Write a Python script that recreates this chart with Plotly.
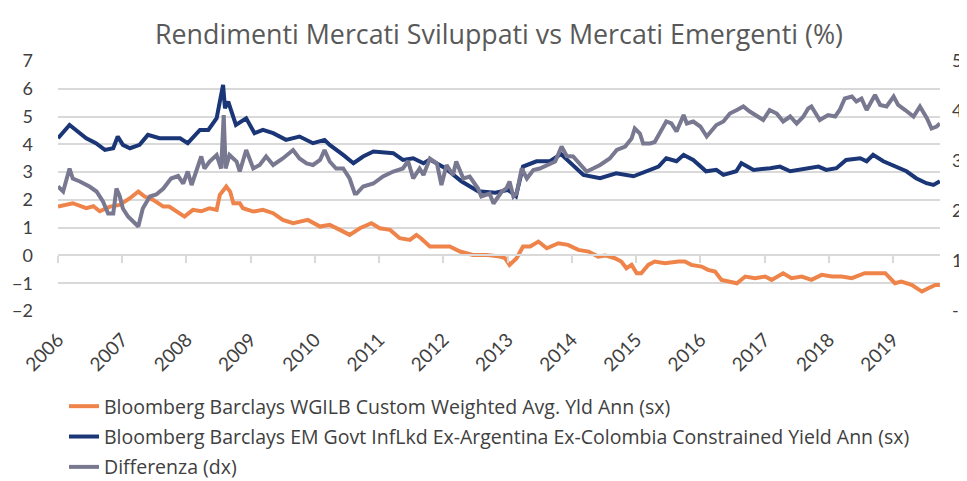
import plotly.graph_objects as go

# decimal-year positions and values
em_x = [2006.00, 2006.18, 2006.44, 2006.59, 2006.73, 2006.86, 2006.93, 2007.01, 2007.12, 2007.27,
        2007.40, 2007.58, 2007.90, 2008.02, 2008.21, 2008.34, 2008.47, 2008.57, 2008.60, 2008.65,
        2008.77, 2008.93, 2009.06, 2009.19, 2009.35, 2009.55, 2009.76, 2009.97, 2010.15, 2010.23,
        2010.44, 2010.60, 2010.75, 2010.91, 2011.22, 2011.37, 2011.53, 2011.69, 2011.79, 2012.03,
        2012.28, 2012.54, 2012.81, 2012.93, 2013.01, 2013.13, 2013.24, 2013.45, 2013.66, 2013.83,
        2014.02, 2014.18, 2014.44, 2014.69, 2014.96, 2015.16, 2015.35, 2015.47, 2015.63, 2015.74,
        2015.89, 2016.09, 2016.25, 2016.36, 2016.56, 2016.64, 2016.83, 2017.09, 2017.24, 2017.40,
        2017.54, 2017.68, 2017.84, 2017.96, 2018.12, 2018.27, 2018.49, 2018.59, 2018.69, 2018.85,
        2019.05, 2019.21, 2019.36, 2019.52, 2019.63, 2019.73]
em_y = [4.22, 4.70, 4.22, 4.04, 3.80, 3.86, 4.28, 3.98, 3.86, 3.98,
        4.34, 4.22, 4.22, 4.04, 4.52, 4.52, 4.94, 6.14, 5.30, 5.54,
        4.70, 4.94, 4.40, 4.52, 4.40, 4.16, 4.28, 4.04, 4.16, 3.98,
        3.62, 3.32, 3.56, 3.74, 3.68, 3.44, 3.50, 3.32, 3.45, 3.14,
        2.67, 2.31, 2.26, 2.31, 2.36, 2.13, 3.20, 3.39, 3.39, 3.65,
        3.26, 2.90, 2.78, 2.96, 2.85, 3.03, 3.20, 3.50, 3.39, 3.62,
        3.44, 3.03, 3.08, 2.90, 3.03, 3.32, 3.08, 3.14, 3.20, 3.03,
        3.08, 3.14, 3.20, 3.08, 3.14, 3.44, 3.50, 3.39, 3.62, 3.39,
        3.20, 3.03, 2.78, 2.60, 2.54, 2.67]

dm_x = [2006.00, 2006.23, 2006.44, 2006.55, 2006.65, 2006.81, 2006.96, 2007.12, 2007.25, 2007.35,
        2007.48, 2007.64, 2007.73, 2007.84, 2007.97, 2008.10, 2008.23, 2008.36, 2008.47, 2008.52,
        2008.62, 2008.68, 2008.73, 2008.83, 2008.88, 2009.04, 2009.19, 2009.35, 2009.50, 2009.66,
        2009.89, 2010.08, 2010.23, 2010.39, 2010.54, 2010.70, 2010.88, 2011.01, 2011.17, 2011.32,
        2011.48, 2011.58, 2011.65, 2011.79, 2011.94, 2012.10, 2012.26, 2012.46, 2012.67, 2012.88,
        2012.96, 2013.03, 2013.14, 2013.24, 2013.35, 2013.48, 2013.61, 2013.79, 2013.94, 2014.10,
        2014.26, 2014.41, 2014.52, 2014.67, 2014.77, 2014.85, 2014.93, 2015.01, 2015.08, 2015.19,
        2015.29, 2015.45, 2015.66, 2015.76, 2015.86, 2016.02, 2016.12, 2016.23, 2016.33, 2016.44,
        2016.57, 2016.70, 2016.85, 2017.01, 2017.11, 2017.29, 2017.42, 2017.58, 2017.73, 2017.89,
        2018.05, 2018.20, 2018.36, 2018.56, 2018.72, 2018.88, 2019.03, 2019.13, 2019.29, 2019.45,
        2019.55, 2019.66, 2019.73]
dm_y = [1.76, 1.88, 1.70, 1.77, 1.59, 1.76, 1.82, 2.06, 2.30, 2.12,
        2.00, 1.76, 1.76, 1.58, 1.40, 1.64, 1.59, 1.70, 1.64, 2.18,
        2.48, 2.30, 1.88, 1.88, 1.70, 1.58, 1.64, 1.52, 1.28, 1.16,
        1.28, 1.04, 1.10, 0.92, 0.74, 0.98, 1.16, 0.98, 0.92, 0.62,
        0.56, 0.74, 0.62, 0.32, 0.32, 0.32, 0.14, 0.02, 0.02, -0.04,
        -0.10, -0.34, -0.10, 0.32, 0.32, 0.50, 0.26, 0.44, 0.38, 0.20,
        0.14, -0.04, 0.00, -0.10, -0.22, -0.46, -0.34, -0.64, -0.64, -0.34,
        -0.22, -0.28, -0.22, -0.22, -0.34, -0.40, -0.52, -0.58, -0.88, -0.94,
        -1.00, -0.76, -0.82, -0.76, -0.88, -0.64, -0.82, -0.76, -0.88, -0.70,
        -0.76, -0.76, -0.82, -0.64, -0.64, -0.64, -1.00, -0.94, -1.06, -1.30,
        -1.18, -1.06, -1.06]

diff_x = [2006.00, 2006.08, 2006.18, 2006.23, 2006.34, 2006.49, 2006.60, 2006.70, 2006.78, 2006.86,
          2006.91, 2006.96, 2007.01, 2007.09, 2007.17, 2007.25, 2007.32, 2007.43, 2007.53, 2007.64,
          2007.76, 2007.87, 2007.95, 2008.02, 2008.08, 2008.15, 2008.23, 2008.28, 2008.36, 2008.47,
          2008.54, 2008.58, 2008.61, 2008.67, 2008.78, 2008.83, 2008.93, 2009.04, 2009.14, 2009.24,
          2009.35, 2009.50, 2009.66, 2009.76, 2009.87, 2009.97, 2010.08, 2010.15, 2010.23, 2010.33,
          2010.44, 2010.54, 2010.62, 2010.65, 2010.75, 2010.91, 2011.06, 2011.22, 2011.37, 2011.45,
          2011.53, 2011.63, 2011.69, 2011.79, 2011.90, 2011.97, 2012.05, 2012.15, 2012.20, 2012.31,
          2012.41, 2012.54, 2012.59, 2012.72, 2012.78, 2012.91, 2012.98, 2013.03, 2013.09, 2013.14,
          2013.22, 2013.30, 2013.40, 2013.50, 2013.61, 2013.74, 2013.84, 2013.92, 2014.02, 2014.13,
          2014.23, 2014.33, 2014.44, 2014.59, 2014.70, 2014.83, 2014.93, 2014.98, 2015.06, 2015.11,
          2015.22, 2015.29, 2015.37, 2015.47, 2015.55, 2015.63, 2015.74, 2015.79, 2015.89, 2016.00,
          2016.10, 2016.18, 2016.25, 2016.36, 2016.46, 2016.57, 2016.67, 2016.77, 2016.88, 2016.98,
          2017.08, 2017.19, 2017.29, 2017.40, 2017.50, 2017.60, 2017.68, 2017.73, 2017.86, 2017.99,
          2018.10, 2018.17, 2018.25, 2018.36, 2018.43, 2018.51, 2018.59, 2018.67, 2018.72, 2018.80,
          2018.90, 2019.01, 2019.08, 2019.19, 2019.32, 2019.42, 2019.53, 2019.60, 2019.68, 2019.73]
diff_y = [2.49, 2.39, 2.85, 2.65, 2.59, 2.49, 2.39, 2.19, 1.95, 1.95,
          2.45, 2.30, 2.05, 1.89, 1.79, 1.69, 2.05, 2.29, 2.33, 2.45,
          2.65, 2.70, 2.55, 2.79, 2.52, 2.79, 3.09, 2.85, 2.99, 3.12,
          2.85, 3.92, 2.85, 3.12, 2.99, 2.79, 3.22, 2.85, 2.92, 3.09,
          2.92, 3.05, 3.22, 3.05, 2.95, 2.92, 3.02, 3.22, 2.99, 2.85,
          2.85, 2.65, 2.35, 2.35, 2.49, 2.55, 2.69, 2.79, 2.85, 3.00,
          2.65, 2.85, 2.72, 3.05, 2.95, 2.52, 2.92, 2.72, 2.99, 2.65,
          2.69, 2.45, 2.29, 2.35, 2.15, 2.39, 2.45, 2.59, 2.29, 2.35,
          2.85, 2.65, 2.82, 2.85, 2.92, 2.99, 3.29, 3.10, 3.09, 2.92,
          2.79, 2.85, 2.92, 3.05, 3.22, 3.29, 3.45, 3.65, 3.55, 3.35,
          3.35, 3.38, 3.55, 3.79, 3.75, 3.59, 3.92, 3.75, 3.79, 3.69,
          3.49, 3.62, 3.72, 3.79, 3.95, 4.02, 4.09, 3.99, 3.89, 3.82,
          4.02, 3.95, 3.79, 3.89, 3.75, 3.88, 4.05, 4.09, 3.82, 3.92,
          3.89, 4.02, 4.25, 4.29, 4.19, 4.25, 4.02, 4.19, 4.32, 4.12,
          4.09, 4.29, 4.12, 4.02, 3.89, 4.09, 3.85, 3.65, 3.69, 3.75]

years = list(range(2006, 2020))
year_labels = [str(y) for y in years]
left_ticks = list(range(-2, 8))
right_ticks = [0, 1, 2, 3, 4, 5]
right_labels = ["-", "1", "2", "3", "4", "5"]

names = ["Bloomberg Barclays WGILB Custom Weighted Avg. Yld Ann (sx)",
         "Bloomberg Barclays EM Govt InfLkd Ex-Argentina Ex-Colombia Constrained Yield Ann (sx)",
         "Differenza (dx)"]

ORANGE = "#EE844A"
NAVY = "#1A3677"
GREY = "#787891"
GRID = "#D9D9D9"
TXT = "#404040"
FONT = "Lato"
LEG_FONT = "Open Sans"
LW = 4

fig = go.Figure()
fig.add_trace(go.Scatter(x=dm_x, y=dm_y, name=names[0], mode="lines",
                         line=dict(color=ORANGE, width=LW), legendgroup="a", legendrank=1))
fig.add_trace(go.Scatter(x=em_x, y=em_y, name=names[1], mode="lines",
                         line=dict(color=NAVY, width=LW), legendgroup="b", legendrank=2))
fig.add_trace(go.Scatter(x=diff_x, y=diff_y, name=names[2], mode="lines",
                         line=dict(color=GREY, width=LW), yaxis="y2", xaxis="x2",
                         legendgroup="c", legendrank=3))

x_end = 2019.732
fig.update_layout(
    width=967, height=481,
    margin=dict(l=50, r=35, t=53, b=178, autoexpand=False),
    paper_bgcolor="white", plot_bgcolor="white",
    title=dict(text="Rendimenti Mercati Sviluppati vs Mercati Emergenti (%)",
               x=0.5, xref="paper", y=1 - 27 / 481, yref="container", yanchor="middle",
               font=dict(family="Open Sans", size=26.8, color="#595959")),
    font=dict(family=FONT, color=TXT),
    xaxis=dict(range=[2006, x_end], tickmode="array", tickvals=years, ticktext=year_labels,
               tickangle=-45, showgrid=False, zeroline=False, showline=False, ticks="",
               tickfont=dict(size=19, color=TXT), ticklabelstandoff=13, automargin=False),
    xaxis2=dict(range=[2006, x_end], matches="x", overlaying="x", anchor="free",
                position=2 / 9, tickmode="array", tickvals=years, showticklabels=False,
                ticks="outside", ticklen=7, tickcolor=GRID, tickwidth=1.5,
                showline=True, linecolor=GRID, linewidth=1.5, showgrid=False, zeroline=False),
    yaxis=dict(range=[-2, 7], tickmode="array", tickvals=left_ticks, showgrid=True,
               gridcolor=GRID, gridwidth=1.5, zeroline=False, showline=False,
               tickfont=dict(size=18, color=TXT), ticklabelstandoff=24, automargin=False),
    yaxis2=dict(range=[0, 5], overlaying="y", side="right", tickmode="array",
                tickvals=right_ticks, ticktext=right_labels, showgrid=False, zeroline=False,
                showline=False, tickfont=dict(size=18, color=TXT), ticklabelstandoff=11,
                automargin=False),
    legend=dict(x=(56 - 50) / 882, xref="paper", xanchor="left", y=(303 - 379) / 250,
                yref="paper", yanchor="top", orientation="v", tracegroupgap=2,
                font=dict(family=LEG_FONT, size=19.5, color=TXT), bgcolor="rgba(0,0,0,0)"),
    showlegend=True,
)

fig.write_html("out.html")
